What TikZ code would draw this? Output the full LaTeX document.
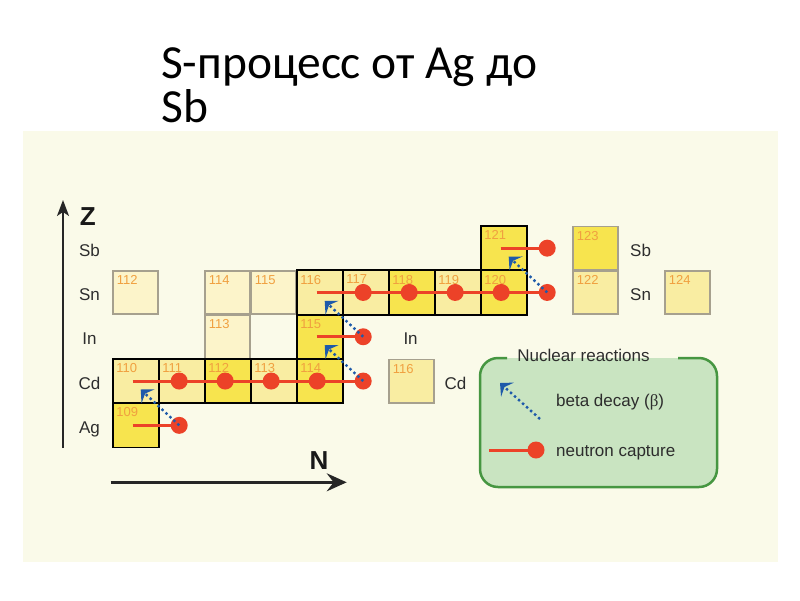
\documentclass[tikz,border=0pt]{standalone}
\usepackage{fontspec}
\setmainfont{Liberation Sans}
\newfontfamily\titlefont{Carlito}
\newfontfamily\betafont{Liberation Serif}
\usetikzlibrary{arrows.meta}
\definecolor{panelbg}{RGB}{250,250,233}
\definecolor{cpale}{RGB}{252,244,202}
\definecolor{clight}{RGB}{249,237,162}
\definecolor{cbright}{RGB}{247,228,78}
\definecolor{cgray}{RGB}{166,160,142}
\definecolor{numorange}{RGB}{240,160,64}
\definecolor{ncred}{RGB}{236,66,40}
\definecolor{bblue}{RGB}{30,90,170}
\definecolor{legfill}{RGB}{201,228,193}
\definecolor{legdraw}{RGB}{70,150,65}
\definecolor{txtgray}{RGB}{45,45,45}
\begin{document}
\begin{tikzpicture}[x=1pt,y=-1pt,
  cellbase/.style={rectangle, minimum width=46pt, minimum height=44.3pt, inner sep=0pt, outer sep=0pt},
  pathcell/.style={cellbase, draw=black, line width=1.8pt},
  offcell/.style={cellbase, minimum width=45pt, minimum height=43.3pt, draw=cgray, line width=1.8pt},
  num/.style={anchor=north west, inner sep=0pt, xshift=3.5pt, yshift=-4.5pt, font=\fontsize{13}{13}\selectfont, text=numorange},
  ncline/.style={draw=ncred, line width=3pt},
  ncdot/.style={circle, fill=ncred, minimum size=17pt, inner sep=0pt, outer sep=0pt},
  betaarrow/.style={draw=bblue, line width=2.4pt, dash pattern=on 2.4pt off 3pt, -{Stealth[length=10pt,width=19pt,inset=4pt]}},
  elem/.style={inner sep=0pt, font=\fontsize{17}{20}\selectfont, text=txtgray},
  legtext/.style={inner sep=0pt, font=\fontsize{17}{20}\selectfont, text=txtgray},
  axislbl/.style={inner sep=0pt, font=\fontsize{26}{28}\selectfont\bfseries, text=black!90},
  titletext/.style={inner sep=0pt, align=left, font=\titlefont\fontsize{47.5}{43.5}\selectfont, text=black}
]
\useasboundingbox (0,0) rectangle (800,600);
\fill[white] (0,0) rectangle (800,600);
\fill[panelbg] (23,131) rectangle (778,562);

% title
\node[titletext, anchor=base west] (title) at (161,122) {S-процесс от Ag до\\Sb};

% off-path cells
\node[offcell, fill=cpale, label={[num]north west:112}] (sn112) at (135.7,292.45) {};
\node[offcell, fill=cpale, label={[num]north west:114}] (sn114) at (227.7,292.45) {};
\node[offcell, fill=cpale, label={[num]north west:115}] (sn115) at (273.7,292.45) {};
\node[offcell, fill=cpale, label={[num]north west:113}] (in113) at (227.7,336.75) {};
\node[offcell, fill=clight, label={[num]north west:116}] (cd116) at (411.7,381.05) {};
\node[offcell, fill=cbright, label={[num]north west:123}] (sb123) at (595.7,248.15) {};
\node[offcell, fill=clight, label={[num]north west:122}] (sn122) at (595.7,292.45) {};
\node[offcell, fill=clight, label={[num]north west:124}] (sn124) at (687.7,292.45) {};

% path cells
\node[pathcell, fill=cbright, label={[num]north west:109}] (ag109) at (135.7,425.35) {};
\node[pathcell, fill=clight, label={[num]north west:110}] (cd110) at (135.7,381.05) {};
\node[pathcell, fill=clight, label={[num]north west:111}] (cd111) at (181.7,381.05) {};
\node[pathcell, fill=cbright, label={[num]north west:112}] (cd112) at (227.7,381.05) {};
\node[pathcell, fill=clight, label={[num]north west:113}] (cd113) at (273.7,381.05) {};
\node[pathcell, fill=cbright, label={[num]north west:114}] (cd114) at (319.7,381.05) {};
\node[pathcell, fill=cbright, label={[num]north west:115}] (in115) at (319.7,336.75) {};
\node[pathcell, fill=clight, label={[num]north west:116}] (sn116) at (319.7,292.45) {};
\node[pathcell, fill=clight, label={[num]north west:117}] (sn117) at (365.7,292.45) {};
\node[pathcell, fill=cbright, label={[num]north west:118}] (sn118) at (411.7,292.45) {};
\node[pathcell, fill=clight, label={[num]north west:119}] (sn119) at (457.7,292.45) {};
\node[pathcell, fill=cbright, label={[num]north west:120}] (sn120) at (503.7,292.45) {};
\node[pathcell, fill=cbright, label={[num]north west:121}] (sb121) at (503.7,248.15) {};

% neutron capture coordinates
\coordinate (ncA0) at (132.7,425.35);
\coordinate (pA1) at (179.2,425.35);
\coordinate (ncC0) at (132.7,381.05);
\coordinate (pC1) at (179.2,381.05);
\coordinate (pC2) at (225.2,381.05);
\coordinate (pC3) at (271.2,381.05);
\coordinate (pC4) at (317.2,381.05);
\coordinate (pC5) at (363.2,381.05);
\coordinate (ncI0) at (316.7,336.75);
\coordinate (pI1) at (363.2,336.75);
\coordinate (ncS0) at (316.7,292.45);
\coordinate (pS1) at (363.2,292.45);
\coordinate (pS2) at (409.2,292.45);
\coordinate (pS3) at (455.2,292.45);
\coordinate (pS4) at (501.2,292.45);
\coordinate (pS5) at (547.2,292.45);
\coordinate (ncB0) at (500.7,248.15);
\coordinate (pB1) at (547.2,248.15);

\draw[ncline] (ncA0) -- (pA1);
\draw[ncline] (ncC0) -- (pC5);
\draw[ncline] (ncI0) -- (pI1);
\draw[ncline] (ncS0) -- (pS5);
\draw[ncline] (ncB0) -- (pB1);

\node[ncdot] (dA1) at (pA1) {};
\node[ncdot] (dC1) at (pC1) {};
\node[ncdot] (dC2) at (pC2) {};
\node[ncdot] (dC3) at (pC3) {};
\node[ncdot] (dC4) at (pC4) {};
\node[ncdot] (dC5) at (pC5) {};
\node[ncdot] (dI1) at (pI1) {};
\node[ncdot] (dS1) at (pS1) {};
\node[ncdot] (dS2) at (pS2) {};
\node[ncdot] (dS3) at (pS3) {};
\node[ncdot] (dS4) at (pS4) {};
\node[ncdot] (dS5) at (pS5) {};
\node[ncdot] (dB1) at (pB1) {};

% beta decay arrows
\coordinate (tA) at (140.7,389.5);
\coordinate (tC) at (324.7,345.25);
\coordinate (tI) at (324.7,300.95);
\coordinate (tS) at (508.7,256.65);
\draw[betaarrow] (dA1.center) -- (tA);
\draw[betaarrow] (dC5.center) -- (tC);
\draw[betaarrow] (dI1.center) -- (tI);
\draw[betaarrow] (dS5.center) -- (tS);

% element labels left
\node[elem, anchor=base] (lSb) at (89.5,256.15) {Sb};
\node[elem, anchor=base] (lSn) at (89.5,300.45) {Sn};
\node[elem, anchor=base] (lIn) at (89.5,344.75) {In};
\node[elem, anchor=base] (lCd) at (89.5,389.05) {Cd};
\node[elem, anchor=base] (lAg) at (89.5,433.35) {Ag};
% element labels right
\node[elem, anchor=base west] (rSb) at (630,256.15) {Sb};
\node[elem, anchor=base west] (rSn) at (630,300.45) {Sn};
\node[elem, anchor=base west] (rIn) at (403.3,344.75) {In};
\node[elem, anchor=base west] (rCd) at (444.3,389.05) {Cd};

% axes
\coordinate (zb) at (63,448);
\coordinate (zt) at (63,200);
\draw[black!85, line width=1.6pt, -{Stealth[length=16pt,width=12pt,inset=4pt]}] (zb) -- (zt);
\node[axislbl, anchor=base] (zlbl) at (87.7,225) {Z};
\coordinate (nb) at (110.7,482.3);
\coordinate (nt) at (346.7,482.3);
\draw[black!85, line width=2.4pt, -{Stealth[length=20pt,width=18pt,inset=7pt]}] (nb) -- (nt);
\node[axislbl, anchor=base] (nlbl) at (319,469.3) {N};

% legend
\node[fill=legfill, rounded corners=18pt, minimum width=237pt, minimum height=129pt, inner sep=0pt, outer sep=0pt] (legend) at (598.5,422.5) {};
\draw[legdraw, line width=2.5pt, rounded corners=18pt] (678,358) -- (legend.north east) -- (legend.south east) -- (legend.south west) -- (legend.north west) -- (507,358);
\node[legtext, anchor=base] (legtitle) at (583.5,361) {Nuclear reactions};
\coordinate (lb0) at (540,419);
\coordinate (lb1) at (500,383);
\draw[betaarrow] (lb0) -- (lb1);
\coordinate (ln0) at (489,450);
\coordinate (lnp) at (536,450);
\draw[ncline] (ln0) -- (lnp);
\node[ncdot] (lnd) at (lnp) {};
\node[legtext, anchor=base west] (lbt) at (556,406) {beta decay ({\betafont β})};
\node[legtext, anchor=base west] (lnt) at (556,456) {neutron capture};
\end{tikzpicture}
\end{document}
